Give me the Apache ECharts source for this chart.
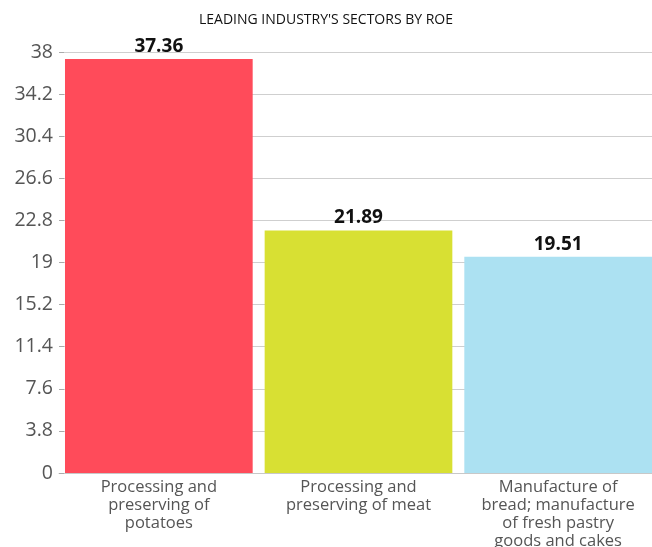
<!DOCTYPE html>
<html>
<head>
<meta charset="utf-8">
<script src="https://cdn.jsdelivr.net/npm/echarts@6/dist/echarts.min.js"></script>
<style>
  html, body { margin: 0; padding: 0; background: #fff; }
  #chart { width: 652px; height: 547px; }
</style>
</head>
<body>
<div id="chart"></div>
<script>
// 数据
const categories = [
  'Processing and\npreserving of\npotatoes',
  'Processing and\npreserving of meat',
  'Manufacture of\nbread; manufacture\nof fresh pastry\ngoods and cakes'
]
const roeValues = [37.36, 21.89, 19.51]
const barColors = ['#FF4B5A', '#D8E033', '#ACE1F2']
const yTicks = [0, 3.8, 7.6, 11.4, 15.2, 19, 22.8, 26.6, 30.4, 34.2, 38]

const myChart = echarts.init(document.getElementById('chart'))

const options = {
  title: {
    text: "LEADING INDUSTRY'S SECTORS BY ROE",
    left: 'center',
    top: 8,
    textStyle: {
      fontFamily: 'Open Sans',
      fontSize: 14,
      fontWeight: 'normal',
      color: '#111'
    }
  },
  // v6 默认会把标签挤进容器，这里关掉，按固定边距布局
  grid: {
    top: 52,
    left: 59,
    width: 599,
    bottom: 74,
    outerBoundsMode: 'none'
  },
  xAxis: {
    type: 'category',
    data: categories,
    axisLine: { lineStyle: { color: '#c8c8c8' } },
    axisTick: { length: 4, lineStyle: { color: '#bbb' } },
    axisLabel: {
      fontFamily: 'Open Sans',
      fontSize: 16.5,
      lineHeight: 18,
      color: '#555',
      margin: 5,
      interval: 0
    }
  },
  yAxis: {
    type: 'value',
    min: yTicks[0],
    max: yTicks[yTicks.length - 1],
    interval: yTicks[1],
    axisLine: { show: false },
    axisTick: { show: true, inside: true, length: 5, lineStyle: { color: '#aaa' } },
    splitLine: { lineStyle: { color: '#cfcfcf' } },
    axisLabel: {
      fontFamily: 'Open Sans',
      fontSize: 19.5,
      color: '#555',
      margin: 6,
      formatter: (v) => String(Math.round(v * 10) / 10)
    }
  },
  series: [
    {
      type: 'bar',
      barCategoryGap: '6%',
      data: roeValues.map((v, i) => ({ value: v, itemStyle: { color: barColors[i] } })),
      label: {
        show: true,
        position: 'top',
        distance: 3,
        fontFamily: 'Open Sans',
        fontSize: 19,
        fontWeight: 'bold',
        color: '#111'
      }
    }
  ]
}
myChart.setOption(options)
</script>
</body>
</html>
